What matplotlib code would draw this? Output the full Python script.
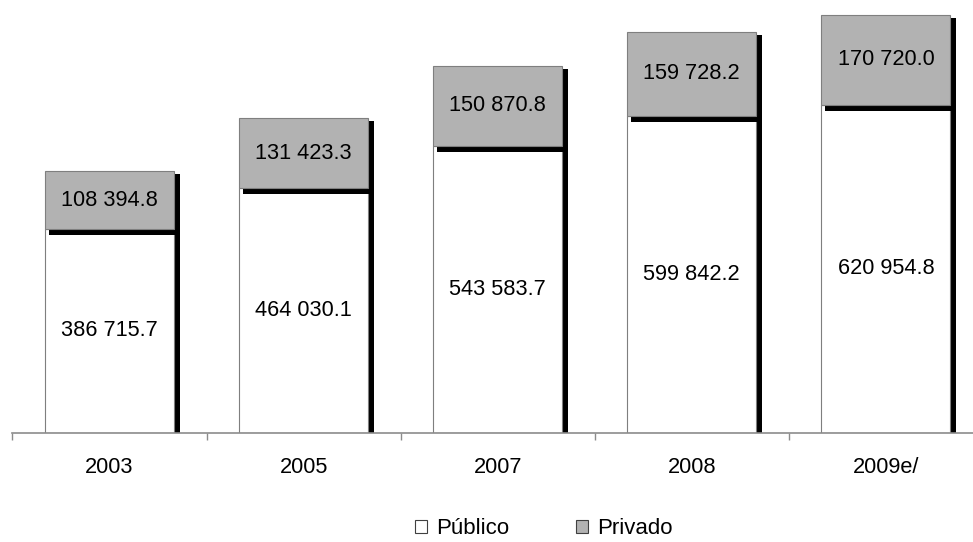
import numpy as np
import matplotlib
matplotlib.use("Agg")
import matplotlib.pyplot as plt
from matplotlib.patches import Patch

plt.rcParams['font.family'] = ['Liberation Sans', 'DejaVu Sans']

years = ['2003', '2005', '2007', '2008', '2009e/']
publico = [386715.7, 464030.1, 543583.7, 599842.2, 620954.8]
privado = [108394.8, 131423.3, 150870.8, 159728.2, 170720.0]


def fmt(v):
    s = f"{v:,.1f}"
    return s.replace(",", " ")


fig = plt.figure(figsize=(9.73, 5.42), dpi=100)
ax = fig.add_axes([0.0128, 0.2011, 0.9974, 0.7995])

ymax = 820000
ax.set_xlim(-0.5, 4.5)
ax.set_ylim(0, ymax)

# pixel sizes in data units
px_x = 5 / 970.5
px_y = ymax / 434.0

w = 0.665
x = np.arange(len(years))
pub = np.array(publico)
priv = np.array(privado)
edge = '#7f7f7f'

# shadows and bars
ax.bar(x + 5 * px_x, pub - 3 * px_y, width=w + 2 * px_x, color='black', zorder=1)
ax.bar(x, pub, width=w, color='white', edgecolor=edge, linewidth=0.8, zorder=2)
ax.bar(x + 5 * px_x, priv + 3 * px_y, bottom=pub - 6 * px_y, width=w + 2 * px_x,
       color='black', zorder=3)
ax.bar(x, priv, bottom=pub, width=w, color='#b2b2b2', edgecolor=edge,
       linewidth=0.8, zorder=4)

for i in range(len(years)):
    ax.text(x[i], pub[i] / 2, fmt(pub[i]), ha='center', va='center',
            fontsize=15.7, zorder=5)
    ax.text(x[i], pub[i] + priv[i] / 2, fmt(priv[i]), ha='center', va='center',
            fontsize=15.7, zorder=5)

for s in ['left', 'right', 'top']:
    ax.spines[s].set_visible(False)
ax.spines['bottom'].set_color('#8c8c8c')
ax.spines['bottom'].set_linewidth(1.2)
ax.spines['bottom'].set_zorder(6)

ax.set_yticks([])
ax.set_xticks(x)
ax.set_xticklabels(years, fontsize=15.7)
ax.tick_params(axis='x', which='major', length=0, pad=17)
ax.set_xticks(np.arange(-0.5, 5, 1), minor=True)
ax.tick_params(axis='x', which='minor', length=5, width=1, color='#8c8c8c',
               direction='out')

handles = [Patch(facecolor='white', edgecolor='#404040', linewidth=0.8),
           Patch(facecolor='#b2b2b2', edgecolor='#404040', linewidth=0.8)]
fig.legend(handles, ['Público', 'Privado'], loc='center',
           bbox_to_anchor=(544 / 973, 1 - 529 / 542), ncol=2, frameon=False,
           fontsize=16, handlelength=0.55, handleheight=0.55,
           handletextpad=0.4, columnspacing=3.0, borderpad=0)

fig.savefig('out.png', dpi=100)
